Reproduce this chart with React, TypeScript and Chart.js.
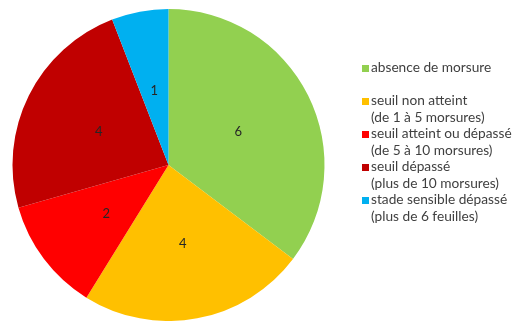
import React, { useEffect, useRef } from "react";
import { Chart, registerables } from "chart.js";

Chart.register(...registerables);

const categories: string[] = [
  "absence de morsure",
  "seuil non atteint",
  "seuil atteint ou dépassé",
  "seuil dépassé",
  "stade sensible dépassé",
];
const subLabels: string[] = [
  "",
  "(de 1 à 5 morsures)",
  "(de 5 à 10 morsures)",
  "(plus de 10 morsures)",
  "(plus de 6 feuilles)",
];
const values: number[] = [6, 4, 2, 4, 1];
const colors: string[] = ["#92D050", "#FFC000", "#FF0000", "#C00000", "#00B0F0"];

const FONT = "Lato, 'Open Sans', sans-serif";

const labelsPlugin = {
  id: "sliceLabels",
  afterDatasetsDraw(chart: any) {
    const ctx = chart.ctx;
    const meta = chart.getDatasetMeta(0);
    ctx.save();
    ctx.font = `13px ${FONT}`;
    ctx.fillStyle = "#262626";
    ctx.textAlign = "center";
    ctx.textBaseline = "middle";
    meta.data.forEach((arc: any, i: number) => {
      const p = arc.getCenterPoint();
      ctx.fillText(String(chart.data.datasets[0].data[i]), p.x, p.y + 2);
    });
    ctx.restore();
  },
};

const legendPlugin = {
  id: "customLegend",
  afterDraw(chart: any) {
    const ctx = chart.ctx;
    const x0 = 362;
    const y0 = 68;
    const entryH = 33;
    const lineH = 16.5;
    ctx.save();
    ctx.font = `13.7px ${FONT}`;
    ctx.textBaseline = "middle";
    ctx.textAlign = "left";
    const labels = chart.data.labels as string[];
    labels.forEach((lab: string, i: number) => {
      const y = y0 + i * entryH;
      ctx.fillStyle = (chart.data.datasets[0].backgroundColor as string[])[i];
      ctx.fillRect(x0, y - 3, 7, 7);
      ctx.fillStyle = "#404040";
      ctx.fillText(lab, x0 + 9, y);
      if (subLabels[i]) ctx.fillText(subLabels[i], x0 + 9, y + lineH);
    });
    ctx.restore();
  },
};

export default function App() {
  const ref = useRef<HTMLCanvasElement | null>(null);
  useEffect(() => {
    if (!ref.current) return;
    const chart = new Chart(ref.current, {
      type: "pie",
      data: {
        labels: categories,
        datasets: [
          {
            data: values,
            backgroundColor: colors,
            borderWidth: 0,
          },
        ],
      },
      options: {
        animation: false,
        responsive: false,
        maintainAspectRatio: false,
        layout: { padding: { left: 12, right: 197, top: 9, bottom: 0 } },
        plugins: {
          legend: { display: false },
          tooltip: { enabled: false },
        },
      },
      plugins: [labelsPlugin, legendPlugin],
    });
    return () => chart.destroy();
  }, []);
  return (
    <div style={{ position: "fixed", left: 0, top: 0, width: 522, height: 321, background: "#fff" }}>
      <canvas ref={ref} width={522} height={321} style={{ width: 522, height: 321, display: "block" }} />
    </div>
  );
}
